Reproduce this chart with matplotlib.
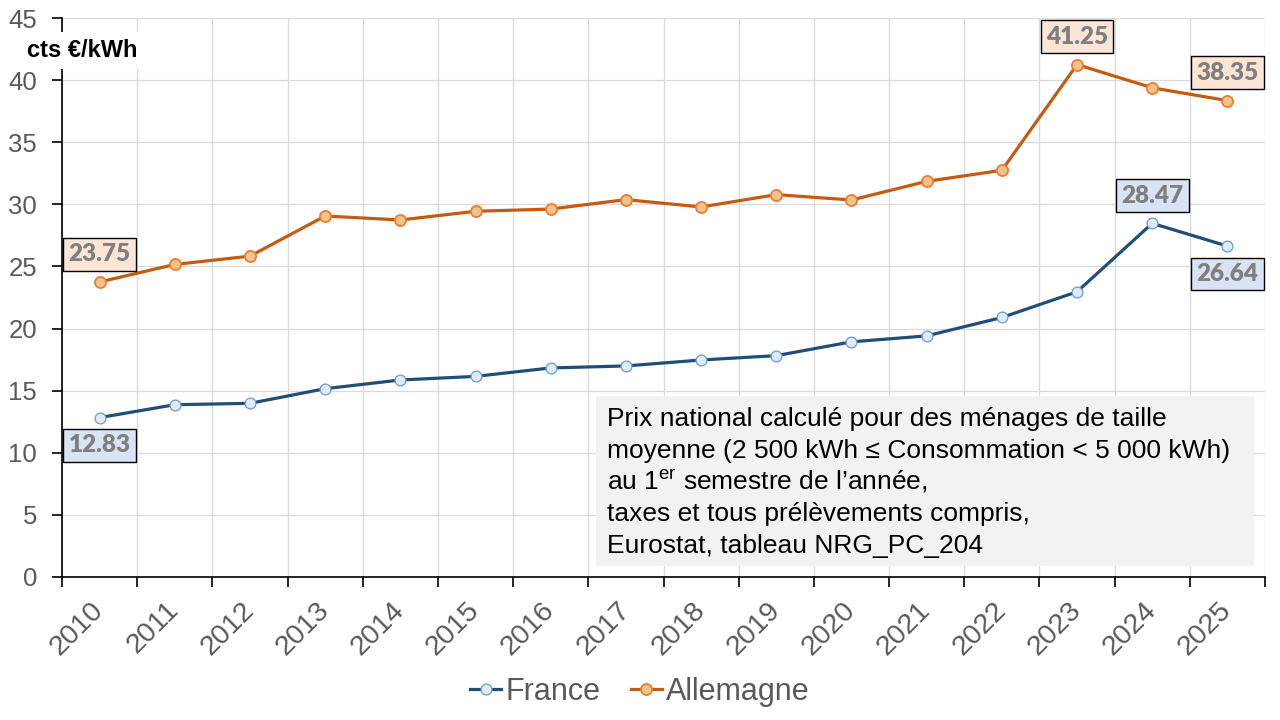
import matplotlib
matplotlib.use("Agg")
import matplotlib.pyplot as plt
from matplotlib.patches import Rectangle

# Prix de l'électricité pour les ménages (cts €/kWh), 1er semestre
years = [str(y) for y in range(2010, 2026)]
france = [12.83, 13.87, 13.98, 15.16, 15.86, 16.15, 16.83, 16.99,
          17.47, 17.82, 18.93, 19.41, 20.89, 22.96, 28.47, 26.64]
allemagne = [23.75, 25.16, 25.83, 29.06, 28.74, 29.44, 29.62, 30.38,
             29.79, 30.78, 30.35, 31.85, 32.74, 41.25, 39.38, 38.35]

# which points get a value label, and on which side (+1 above / -1 below)
france_labels = {0: -1, 14: 1, 15: -1}
allemagne_labels = {0: 1, 13: 1, 15: 1}

note_lines = [
    "Prix national calculé pour des ménages de taille",
    "moyenne (2 500 kWh ≤ Consommation < 5 000 kWh)",
    r"au 1$^{\mathrm{er}}$ semestre de l’année,",
    "taxes et tous prélèvements compris,",
    "Eurostat, tableau NRG_PC_204",
]

plt.rcParams['font.family'] = ['Liberation Sans', 'DejaVu Sans']
plt.rcParams['mathtext.fontset'] = 'custom'
plt.rcParams['mathtext.rm'] = 'Liberation Sans'

GREY = '#595959'
GRID = '#D9D9D9'

fig = plt.figure(figsize=(12.8, 7.2), dpi=100)
ax = fig.add_axes([62 / 1280, 1 - 577 / 720, 1203 / 1280, 559 / 720])

x = list(range(len(years)))
ax.plot(x, france, color='#1F4E79', lw=2.3, marker='o', ms=7.8,
        mfc='#DEEBF7', mec='#6E9BCB', mew=0.9, label='France', zorder=3)
ax.plot(x, allemagne, color='#C55A11', lw=2.3, marker='o', ms=8.0,
        mfc='#EEC48C', mec='#ED7D31', mew=1.3, label='Allemagne', zorder=3)

# value labels in boxes
for series, labels, face in [(france, france_labels, '#DAE3F3'),
                             (allemagne, allemagne_labels, '#FBE5D6')]:
    for i, side in labels.items():
        ax.annotate(f"{series[i]:.2f}", (i, series[i]), xytext=(0, 20 * side),
                    textcoords='offset points', ha='center', va='center',
                    fontsize=17.5, fontweight='heavy', family='Lato', color='#7F7F7F',
                    bbox=dict(boxstyle='square,pad=0.22', fc=face, ec='black', lw=1.0),
                    zorder=5)

ax.set_xlim(-0.5, len(years) - 0.5)
ax.set_ylim(0, 45)
ax.set_yticks(range(0, 46, 5))
ax.set_xticks([i - 0.5 for i in range(len(years) + 1)])
ax.set_xticklabels([])
ax.set_xticks(x, minor=True)
ax.set_xticklabels(years, minor=True, rotation=45, ha='right', va='center',
                   rotation_mode='anchor')
ax.tick_params(axis='x', which='minor', length=0, pad=21, labelsize=20.5,
               labelcolor=GREY)
ax.tick_params(axis='x', which='major', length=7, width=1.2, direction='out')
ax.tick_params(axis='y', length=7, width=1.2, pad=11, labelsize=18.5,
               labelcolor=GREY)

ax.grid(True, which='major', color=GRID, lw=0.9)
ax.set_axisbelow(True)
for s in ['top', 'right']:
    ax.spines[s].set_visible(False)
for s in ['left', 'bottom']:
    ax.spines[s].set_linewidth(1.2)

# unit label on the y axis
fig.text(27 / 1280, 1 - 57 / 720, "cts €/kWh", fontsize=17, fontweight='bold',
         color='black', ha='left', va='baseline',
         bbox=dict(boxstyle='square,pad=0.3', fc='white', ec='none'), zorder=10)

# note box
ax.add_patch(Rectangle((534 / 1203, 11 / 559), 658 / 1203, 170 / 559,
                       transform=ax.transAxes, fc='#F2F2F2', ec='none', zorder=4))
for k, line in enumerate(note_lines):
    ax.text(545 / 1203, (151 - 31.8 * k) / 559, line, transform=ax.transAxes,
            fontsize=19, color='black', ha='left', va='baseline', zorder=6)

fig.legend(loc='center', bbox_to_anchor=(0.5, 1 - 692 / 720), ncol=2,
           frameon=False, fontsize=22, labelcolor=GREY, handlelength=1.0,
           handletextpad=0.15, columnspacing=1.0, borderaxespad=0)

fig.savefig('out.png', dpi=100)
